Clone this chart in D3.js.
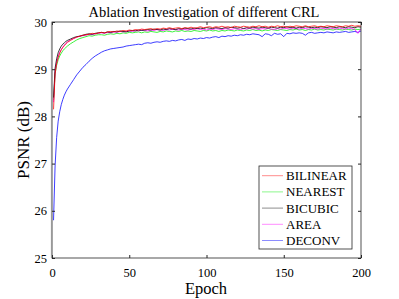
<!DOCTYPE html>
<html>
<head>
<meta charset="utf-8">
<script src="https://cdn.jsdelivr.net/npm/d3@7"></script>
<style>
  body { margin: 0; background: #fff; }
</style>
</head>
<body>
<div id="chart"></div>
<script>
// epochs sampled from the training log
const epochs = [1,2,3,4,5,6,7,8,9,10,
  12,14,16,18,20,22,24,26,28,30,32,34,36,38,40,42,44,46,48,50,
  52,54,56,58,60,62,64,66,68,70,72,74,76,78,80,82,84,86,88,90,
  92,94,96,98,100,102,104,106,108,110,112,114,116,118,120,122,124,126,128,130,
  132,134,136,138,140,142,144,146,148,150,152,154,156,158,160,162,164,166,168,170,
  172,174,176,178,180,182,184,186,188,190,192,194,196,198,200];

const bilinear = [28.15,28.90,29.12,29.25,29.34,29.41,29.46,29.50,29.54,29.57,
  29.61,29.65,29.68,29.70,29.72,29.73,29.74,29.76,29.75,29.77,29.78,29.77,29.79,29.80,29.79,29.81,29.80,29.82,29.81,29.83,
  29.82,29.84,29.83,29.85,29.84,29.85,29.86,29.84,29.86,29.85,29.87,29.86,29.88,29.86,29.87,29.88,29.86,29.88,29.87,29.89,
  29.87,29.88,29.90,29.88,29.89,29.90,29.88,29.90,29.89,29.91,29.89,29.90,29.88,29.91,29.90,29.89,29.91,29.90,29.89,29.91,
  29.90,29.92,29.90,29.91,29.89,29.91,29.90,29.92,29.90,29.91,29.89,29.91,29.90,29.92,29.91,29.90,29.92,29.90,29.91,29.92,
  29.90,29.91,29.90,29.92,29.91,29.90,29.92,29.91,29.90,29.92,29.91,29.93,29.91,29.92,29.91];

const nearest = [28.35,28.90,29.08,29.20,29.28,29.34,29.39,29.43,29.46,29.49,
  29.54,29.58,29.62,29.65,29.67,29.69,29.71,29.70,29.72,29.73,29.73,29.72,29.74,29.75,29.74,29.76,29.75,29.77,29.76,29.78,
  29.77,29.78,29.79,29.77,29.79,29.78,29.80,29.79,29.78,29.80,29.79,29.81,29.80,29.79,29.81,29.80,29.82,29.80,29.81,29.80,
  29.82,29.81,29.80,29.82,29.81,29.83,29.81,29.82,29.80,29.82,29.81,29.83,29.82,29.81,29.83,29.82,29.81,29.83,29.82,29.84,
  29.82,29.83,29.81,29.83,29.82,29.84,29.83,29.82,29.84,29.83,29.82,29.84,29.83,29.85,29.83,29.84,29.82,29.84,29.83,29.85,
  29.83,29.84,29.83,29.85,29.84,29.83,29.85,29.84,29.83,29.85,29.84,29.83,29.85,29.84,29.85];

const bicubic = [28.40,29.02,29.22,29.35,29.43,29.49,29.53,29.56,29.59,29.61,
  29.64,29.67,29.69,29.70,29.72,29.74,29.75,29.74,29.76,29.77,29.78,29.77,29.79,29.78,29.80,29.79,29.81,29.80,29.79,29.81,
  29.82,29.81,29.83,29.82,29.83,29.84,29.83,29.85,29.84,29.83,29.85,29.84,29.86,29.85,29.84,29.86,29.85,29.87,29.86,29.85,
  29.87,29.86,29.87,29.86,29.88,29.87,29.86,29.88,29.87,29.86,29.88,29.87,29.89,29.88,29.87,29.88,29.86,29.88,29.87,29.89,
  29.88,29.87,29.89,29.88,29.87,29.89,29.88,29.87,29.89,29.88,29.90,29.88,29.89,29.87,29.89,29.88,29.90,29.89,29.88,29.89,
  29.88,29.90,29.89,29.88,29.90,29.89,29.88,29.90,29.89,29.88,29.90,29.89,29.88,29.90,29.89];

const area = [28.30,28.95,29.15,29.27,29.36,29.42,29.47,29.51,29.55,29.58,
  29.62,29.65,29.68,29.70,29.71,29.72,29.74,29.73,29.75,29.76,29.77,29.76,29.78,29.77,29.79,29.78,29.80,29.79,29.80,29.81,
  29.80,29.82,29.81,29.83,29.82,29.81,29.83,29.82,29.84,29.83,29.82,29.84,29.83,29.85,29.84,29.83,29.85,29.84,29.83,29.85,
  29.84,29.86,29.84,29.85,29.83,29.85,29.84,29.86,29.85,29.84,29.86,29.85,29.84,29.86,29.85,29.84,29.86,29.85,29.87,29.85,
  29.86,29.84,29.86,29.85,29.87,29.85,29.84,29.86,29.85,29.87,29.86,29.85,29.87,29.86,29.85,29.87,29.86,29.85,29.87,29.86,
  29.85,29.87,29.86,29.85,29.87,29.86,29.85,29.87,29.86,29.85,29.87,29.86,29.84,29.76,29.86];

const deconv = [25.80,26.95,27.55,27.90,28.10,28.25,28.36,28.45,28.52,28.58,
  28.68,28.78,28.88,28.96,29.04,29.10,29.17,29.23,29.28,29.32,29.36,29.39,29.41,29.43,29.44,29.45,29.46,29.47,29.49,29.50,
  29.51,29.52,29.53,29.52,29.55,29.56,29.55,29.57,29.58,29.57,29.59,29.60,29.59,29.61,29.60,29.62,29.63,29.61,29.64,29.63,
  29.65,29.64,29.66,29.65,29.67,29.66,29.68,29.69,29.67,29.70,29.69,29.71,29.70,29.72,29.71,29.73,29.72,29.74,29.73,29.75,
  29.74,29.73,29.69,29.75,29.74,29.71,29.76,29.74,29.75,29.69,29.76,29.75,29.77,29.76,29.77,29.76,29.72,29.77,29.78,29.76,
  29.77,29.78,29.77,29.79,29.78,29.77,29.79,29.78,29.79,29.80,29.78,29.79,29.80,29.78,29.81];

const seriesNames = ["BILINEAR", "NEAREST", "BICUBIC", "AREA", "DECONV"];
const seriesValues = [bilinear, nearest, bicubic, area, deconv];
const seriesColors = ["#ff0000", "#00ee00", "#000000", "#ff00ff", "#0000ff"];
const xTicks = [0, 50, 100, 150, 200];
const yTicks = [25, 26, 27, 28, 29, 30];

const width = 399, height = 299;
const margin = {top: 22, right: 38, bottom: 41, left: 52};
const serif = "Liberation Serif";

const svg = d3.select("#chart").append("svg")
    .attr("width", width)
    .attr("height", height);

const x = d3.scaleLinear().domain([0, 200]).range([margin.left, width - margin.right]);
const y = d3.scaleLinear().domain([25, 30]).range([height - margin.bottom, margin.top]);

// clip so lines don't spill over the box
svg.append("clipPath").attr("id", "clip")
  .append("rect")
    .attr("x", margin.left).attr("y", margin.top)
    .attr("width", x(200) - x(0)).attr("height", y(25) - y(30));

const line = d3.line()
    .x((d, i) => x(epochs[i]))
    .y(d => y(d));

// draw order: deconv first so the others sit on top like the reference
const order = [4, 1, 3, 2, 0];
svg.append("g").attr("clip-path", "url(#clip)")
  .selectAll("path")
  .data(order)
  .enter().append("path")
    .attr("d", k => line(seriesValues[k]))
    .attr("fill", "none")
    .attr("stroke", k => seriesColors[k])
    .attr("stroke-width", 0.9)
    .attr("stroke-opacity", 0.85);

// axes (ticks point inward, mirrored on top/right)
const axisColor = "#262626";
const tickLen = 3;
const fmt = d3.format("d");

svg.append("g")
    .attr("transform", `translate(0,${y(25)})`)
    .call(d3.axisBottom(x).tickValues(xTicks).tickFormat(fmt).tickSize(-tickLen).tickPadding(10))
    .call(g => g.select(".domain").remove())
    .call(g => g.selectAll("line").attr("stroke", axisColor))
    .call(g => g.selectAll("text").attr("font-family", serif).attr("font-size", 12.5).attr("fill", "#000"));

svg.append("g")
    .attr("transform", `translate(0,${y(30)})`)
    .call(d3.axisTop(x).tickValues(xTicks).tickSize(-tickLen).tickFormat(""))
    .call(g => g.select(".domain").remove())
    .call(g => g.selectAll("line").attr("stroke", axisColor));

svg.append("g")
    .attr("transform", `translate(${x(0)},0)`)
    .call(d3.axisLeft(y).tickValues(yTicks).tickFormat(fmt).tickSize(-tickLen).tickPadding(5))
    .call(g => g.select(".domain").remove())
    .call(g => g.selectAll("line").attr("stroke", axisColor))
    .call(g => g.selectAll("text").attr("font-family", serif).attr("font-size", 12.5).attr("fill", "#000"));

svg.append("g")
    .attr("transform", `translate(${x(200)},0)`)
    .call(d3.axisRight(y).tickValues(yTicks).tickSize(-tickLen).tickFormat(""))
    .call(g => g.select(".domain").remove())
    .call(g => g.selectAll("line").attr("stroke", axisColor));

// box
svg.append("rect")
    .attr("x", x(0)).attr("y", y(30))
    .attr("width", x(200) - x(0)).attr("height", y(25) - y(30))
    .attr("fill", "none")
    .attr("stroke", axisColor)
    .attr("stroke-width", 0.8);

// left edge looks heavier and greyer in the original
svg.append("line")
    .attr("x1", x(0) - 0.5).attr("x2", x(0) - 0.5)
    .attr("y1", y(30)).attr("y2", y(25))
    .attr("stroke", "#999")
    .attr("stroke-width", 1.2);

// title and labels
svg.append("text")
    .attr("x", 204).attr("y", 16.5)
    .attr("text-anchor", "middle")
    .attr("font-family", serif)
    .attr("font-size", 14.5)
    .text("Ablation Investigation of different CRL");

svg.append("text")
    .attr("x", 206).attr("y", 294)
    .attr("text-anchor", "middle")
    .attr("font-family", serif)
    .attr("font-size", 16.5)
    .text("Epoch");

svg.append("text")
    .attr("transform", `translate(29,${(y(25) + y(30)) / 2}) rotate(-90)`)
    .attr("text-anchor", "middle")
    .attr("font-family", serif)
    .attr("font-size", 17)
    .text("PSNR (dB)");

// legend
const lg = svg.append("g").attr("transform", "translate(259,166)");
lg.append("rect")
    .attr("width", 93).attr("height", 83)
    .attr("fill", "#fff")
    .attr("stroke", axisColor)
    .attr("stroke-width", 0.8);

const rows = lg.selectAll(".row")
  .data(seriesNames)
  .enter().append("g")
    .attr("transform", (d, i) => `translate(0,${9.7 + i * 16.2})`);

rows.append("line")
    .attr("x1", 3).attr("x2", 24)
    .attr("stroke", (d, i) => seriesColors[i])
    .attr("stroke-width", 0.9)
    .attr("stroke-opacity", 0.5);

rows.append("text")
    .attr("x", 27).attr("dy", "0.35em")
    .attr("font-family", serif)
    .attr("font-size", 13)
    .text(d => d);
</script>
</body>
</html>
